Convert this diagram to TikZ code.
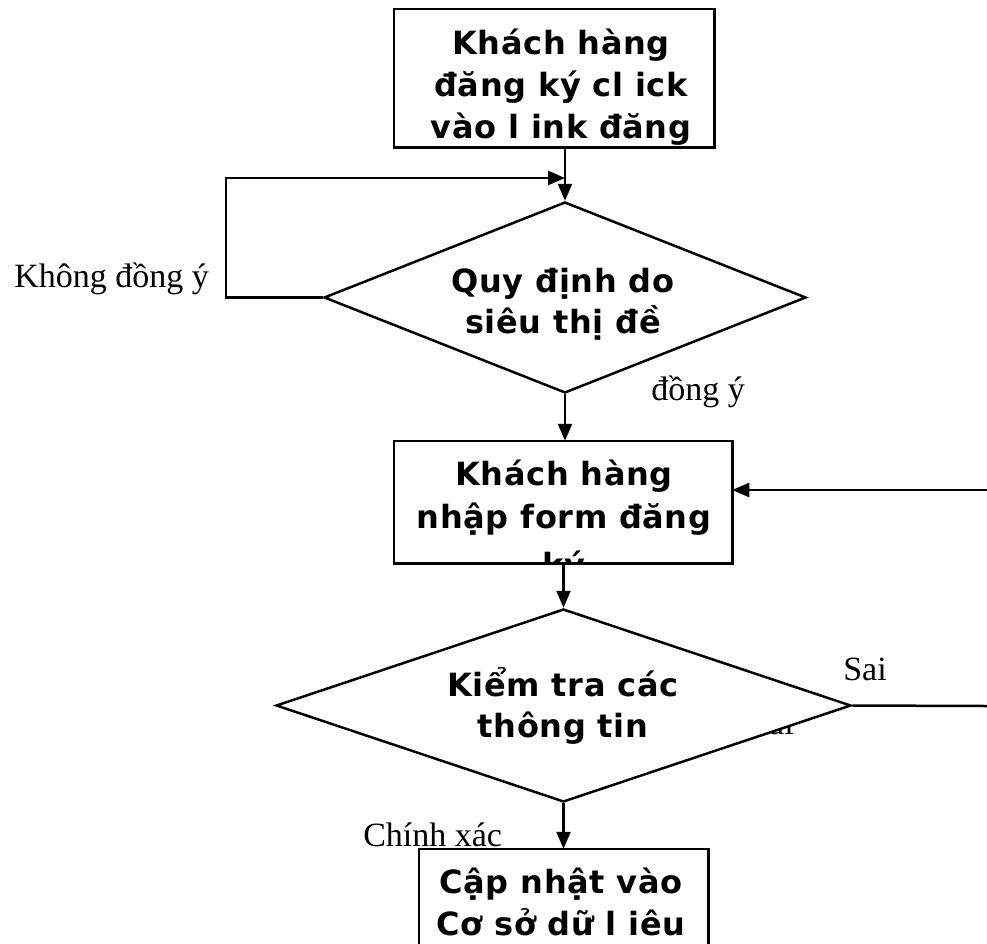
\documentclass[tikz,border=0pt]{standalone}
\usepackage{fontspec}
\setmainfont{Liberation Serif}
\newfontfamily\boxfont[LetterSpace=2]{DejaVu Sans}
\usetikzlibrary{arrows.meta,shapes.geometric}

\begin{document}
\begin{tikzpicture}[x=1pt,y=-1pt,
  line width=2.5pt,
  flow/.style={-{Triangle[length=17pt,width=14pt]}},
  stepbox/.style={rectangle, fill=white, inner sep=0pt},
  choice/.style={diamond, draw, fill=white, inner sep=0pt},
  inbox/.style={font=\boxfont\bfseries\fontsize{32}{38}\selectfont, inner sep=0pt, anchor=base},
  tag/.style={font=\fontsize{34}{40}\selectfont, inner sep=0pt, anchor=base west}]

\useasboundingbox (0,0) rectangle (987,943);
\clip (0,0) rectangle (987,943);

% ---- first step: registration link ----
\node[stepbox, minimum width=318pt, minimum height=136pt] (b1) at (554,78) {};
\begin{scope}
  \clip (b1.north west) rectangle (b1.south east);
  \node[inbox] (b1l1) at (561,54) {Khách hàng};
  \node[inbox] (b1l2) at (561,96) {đăng ký cl ick};
  \node[inbox] (b1l3) at (561,138) {vào l ink đăng};
\end{scope}
\draw (b1.north west) rectangle (b1.south east);

% ---- decision: store rules ----
\node[choice, minimum width=482pt, minimum height=191pt] (d1) at (565,297.5) {};
\node[inbox] (d1l1) at (563,292) {Quy định do};
\node[inbox] (d1l2) at (563,333) {siêu thị đề};

% ---- second step: registration form ----
\node[stepbox, minimum width=336pt, minimum height=120pt] (b2) at (563,502) {};
\begin{scope}
  \clip (b2.north west) rectangle (b2.south east);
  \node[inbox] (b2l1) at (564,485) {Khách hàng};
  \node[inbox] (b2l2) at (564,528) {nhập form đăng};
  \node[inbox] (b2l3) at (564,576) {ký};
\end{scope}
\draw (b2.north west) rectangle (b2.south east);

% ---- decision: check the data ----
\node[tag] (sai2) at (749,734) {Sai};
\node[choice, minimum width=575pt, minimum height=193pt] (d2) at (563.5,705.5) {};
\node[inbox] (d2l1) at (563,696) {Kiểm tra các};
\node[inbox] (d2l2) at (563,737) {thông tin};

% ---- last step: database update ----
\node[stepbox, minimum width=287pt, minimum height=110pt] (b3) at (563.5,905) {};
\begin{scope}
  \clip (b3.north west) rectangle (b3.south east);
  \node[inbox] (b3l1) at (561,893) {Cập nhật vào};
  \node[inbox] (b3l2) at (561,935) {Cơ sở dữ l iêu};
\end{scope}
\draw (b3.north west) rectangle (b3.south east);

% ---- connectors ----
\coordinate (lp) at (565,178);
\coordinate (r1) at (987,490);
\coordinate (r2) at (987,706);

\draw[flow] (d1.north |- b1.south) -- (d1.north);
\draw[flow] (d1.west) -- ++(-97,0) |- (lp);
\draw[flow] (d1.south) -- (d1.south |- b2.north);
\draw[flow] (r1) -- (b2.east |- r1);
\draw[flow] (d2.north |- b2.south) -- (d2.north);
\draw (d2.east) -- (r2);
\draw[flow] (d2.south) -- (d2.south |- b3.north);

% ---- branch labels ----
\node[tag] (no) at (13,287) {Không đồng ý};
\node[tag] (yes) at (650,400) {đồng ý};
\node[tag] (sai) at (842,680) {Sai};
\node[tag] (ok) at (362,846) {Chính xác};

\end{tikzpicture}
\end{document}
